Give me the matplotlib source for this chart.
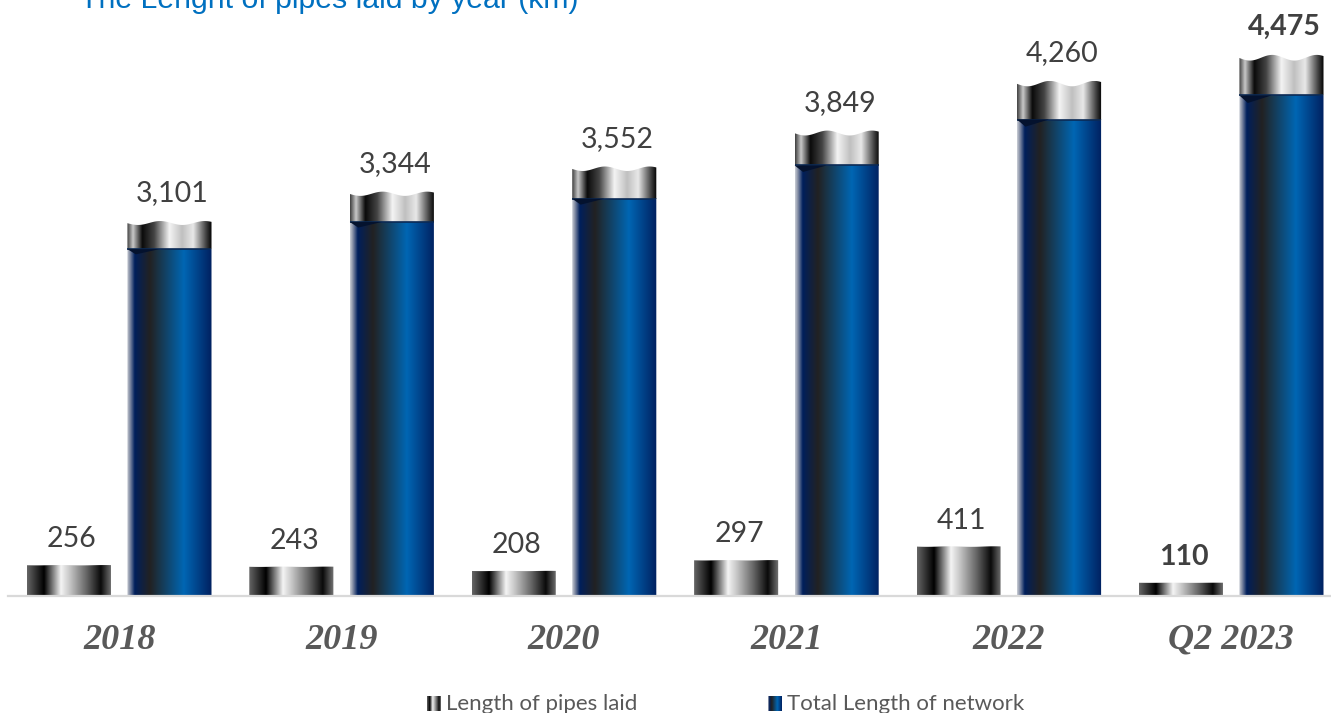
import numpy as np
import matplotlib
matplotlib.use('Agg')
import matplotlib.pyplot as plt
from matplotlib.colors import LinearSegmentedColormap
from matplotlib.patches import Polygon

# Values (km)
categories = ['2018', '2019', '2020', '2021', '2022', 'Q2 2023']
pipes_laid = [256, 243, 208, 297, 411, 110]
total_network = [3101, 3344, 3552, 3849, 4260, 4475]
bold_labels = ['Q2 2023']

title = 'The Lenght of pipes laid by year (km)'
legend_labels = ['Length of pipes laid', 'Total Length of network']

# Horizontal gradients of the metal / blue pipe fills
small_cmap = LinearSegmentedColormap.from_list('small', [
    (0, '#666666'), (0.2, '#000000'), (0.4, '#f4f4f4'), (0.5, '#c8c8c8'),
    (0.7, '#666666'), (0.87, '#0a0a0a'), (1, '#777777')])
cap_cmap = LinearSegmentedColormap.from_list('cap', [
    (0, '#404040'), (0.07, '#c8c8c8'), (0.18, '#0a0a0a'), (0.32, '#444444'),
    (0.5, '#f4f4f4'), (0.65, '#c0c0c0'), (0.78, '#e8e8e8'), (0.93, '#444444'), (1, '#000000')])
blue_cmap = LinearSegmentedColormap.from_list('blue', [
    (0, '#c8ccd4'), (0.03, '#8a93a8'), (0.09, '#001f5c'), (0.27, '#222222'),
    (0.67, '#0066b3'), (1, '#00205f')])
grad = np.linspace(0, 1, 256).reshape(1, -1)

fig = plt.figure(figsize=(13.31, 7.13), dpi=100)
ax = fig.add_axes([8 / 1331, 1 - 596 / 713, 1 - 8 / 1331, 596 / 713])

bar_w = 0.378
offset = 0.226
cap_frac = 0.075   # silver cap as a share of the bar height
wave_frac = 0.0105  # ripple on the top edge


def wave_outline(x0, x1, height):
    xs = np.linspace(0, 1, 80)
    # two humps, highest near 0.39 and 0.92 of the bar width
    ripple = 0.5 * (1 + np.cos(2 * np.pi * (xs - 0.39) / 0.53))
    top = height * (1 - wave_frac * (1 - ripple))
    pts = list(zip(x0 + xs * (x1 - x0), top))
    return [(x0, 0)] + pts + [(x1, 0)]


def pipe(x, height, body_cmap, has_cap):
    x0, x1 = x - bar_w / 2, x + bar_w / 2
    clip = Polygon(wave_outline(x0, x1, height), closed=True, transform=ax.transData,
                   fc='none', ec='none')
    ax.add_patch(clip)
    split = height * (1 - cap_frac) if has_cap else height
    body = ax.imshow(grad, cmap=body_cmap, extent=[x0, x1, 0, split], aspect='auto',
                     interpolation='bilinear', zorder=2)
    body.set_clip_path(clip)
    if has_cap:
        cap = ax.imshow(grad, cmap=cap_cmap, extent=[x0, x1, split, height], aspect='auto',
                        interpolation='bilinear', zorder=2)
        cap.set_clip_path(clip)
        # dark seam where the cap meets the blue body
        ax.plot([x0, x1], [split, split], color='#0b2a55', lw=1.2, zorder=3, solid_capstyle='butt')
        wedge_w = x1 - x0
        ax.add_patch(Polygon([(x0, split), (x0 + 0.38 * wedge_w, split),
                              (x0 + 0.1 * wedge_w, split * 0.985)],
                             closed=True, fc='#04122e', ec='none', zorder=3))


for i, cat in enumerate(categories):
    pipe(i - offset, pipes_laid[i], small_cmap, False)
    pipe(i + offset, total_network[i], blue_cmap, True)
    weight = 'bold' if cat in bold_labels else 'normal'
    for x, val, dy in [(i - offset, pipes_laid[i], 18.5), (i + offset, total_network[i], 20)]:
        ax.annotate(f'{val:,}', (x, val), xytext=(2.2, dy), textcoords='offset points',
                    ha='center', va='center', fontsize=20.5,
                    family='Lato', fontweight=weight, color='#404040', annotation_clip=False)

ax.set_xlim(-0.5, 1323 / 222.4 - 0.5)
ax.set_ylim(0, 596 * 8.27)
ax.set_xticks(range(len(categories)))
ax.set_xticklabels(categories, family='Liberation Serif', style='italic', fontweight='bold',
                   fontsize=26, color='#595959')
ax.tick_params(axis='x', length=0, pad=20)
ax.set_yticks([])
for side in ['top', 'left', 'right']:
    ax.spines[side].set_visible(False)
ax.spines['bottom'].set_color('#d9d9d9')
ax.spines['bottom'].set_linewidth(1.6)
ax.patch.set_alpha(0)

# the title runs off the top edge in the original as well
fig.text(80 / 1331, 1 - 8 / 713, title, family='Liberation Sans', fontsize=21.8,
         color='#0070c0', ha='left', va='baseline')

# Legend swatches carry the same gradients as the bars
for left, cmap, label, text_x in [(427, small_cmap, legend_labels[0], 446),
                                  (768, blue_cmap, legend_labels[1], 787)]:
    sw = fig.add_axes([left / 1331, 1 - 711 / 713, 14 / 1331, 15 / 713])
    sw.imshow(grad, cmap=cmap, aspect='auto')
    sw.axis('off')
    fig.text(text_x / 1331, 1 - 710 / 713, label, family='Lato', fontsize=16,
             color='#595959', ha='left', va='baseline')

fig.savefig('out.png', dpi=100)
